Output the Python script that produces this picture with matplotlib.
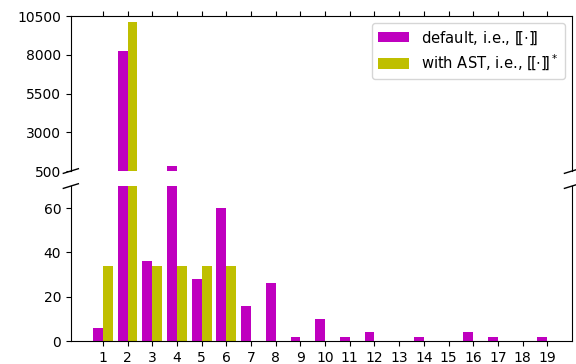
import matplotlib.pyplot as plt
import numpy as np

# valores
posicoes = list(range(1, 20))
rotulos = [str(p) for p in posicoes]
padrao = [6, 8250, 36, 800, 28, 60, 16, 26, 2, 10, 2, 4, 0, 2, 0, 4, 2, 0, 2]
com_ast = [34, 10100, 34, 34, 34, 34, 0, 0, 0, 0, 0, 0, 0, 0, 0, 0, 0, 0, 0]

nome_padrao = r"default, i.e., $[\![\cdot]\!]$"
nome_ast = r"with AST, i.e., $[\![\cdot]\!]^*$"

plt.rcParams["font.size"] = 10

fig, (ax_cima, ax_baixo) = plt.subplots(2, 1, sharex=True, figsize=(5.76, 3.64), dpi=100)
fig.subplots_adjust(left=0.123, right=0.993, top=0.956, bottom=0.063, hspace=0.097)

x = np.array(posicoes)
largura = 0.4

#Desenha as barras nos dois eixos
for ax in (ax_cima, ax_baixo):
    ax.bar(x - largura / 2, padrao, largura, color="m", label=nome_padrao)
    ax.bar(x + largura / 2, com_ast, largura, color="y", label=nome_ast)

ax_cima.set_ylim(500, 10500)
ax_cima.set_yticks(np.linspace(500, 10500, 5))
ax_baixo.set_ylim(0, 70)
ax_baixo.set_yticks([0, 20, 40, 60])
ax_baixo.set_xlim(-0.3, 20)
ax_baixo.set_xticks(posicoes)
ax_baixo.set_xticklabels(rotulos)

#Esconde as bordas entre os dois eixos
ax_cima.spines["bottom"].set_visible(False)
ax_baixo.spines["top"].set_visible(False)
ax_cima.xaxis.tick_top()
ax_cima.tick_params(labeltop=False)
ax_baixo.xaxis.tick_bottom()

#Marcas diagonais da quebra
d = 0.015
kw = dict(transform=ax_cima.transAxes, color="k", clip_on=False, linewidth=1)
ax_cima.plot((-d, +d), (-d, +d), **kw)
ax_cima.plot((1 - d, 1 + d), (-d, +d), **kw)
kw.update(transform=ax_baixo.transAxes)
ax_baixo.plot((-d, +d), (1 - d, 1 + d), **kw)
ax_baixo.plot((1 - d, 1 + d), (1 - d, 1 + d), **kw)

ax_cima.legend(loc="upper right", fontsize=10.6, handlelength=2.1, labelspacing=0.42)

plt.savefig("out.png")
